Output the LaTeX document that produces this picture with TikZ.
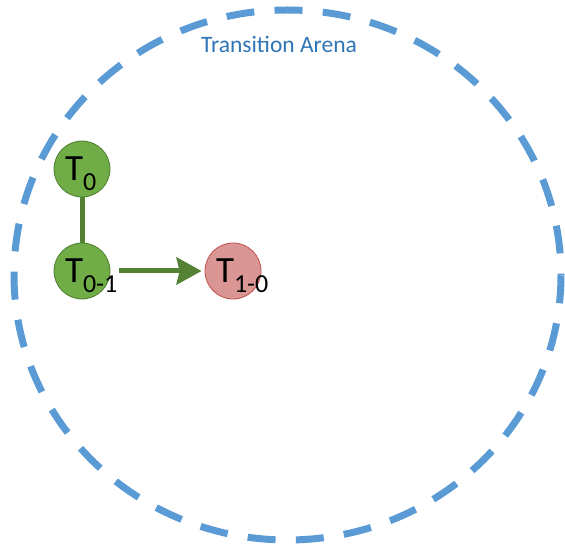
\documentclass[tikz,border=0pt]{standalone}
\usepackage{fontspec}
\setmainfont{Carlito}
\usetikzlibrary{arrows.meta}

\definecolor{arenablue}{RGB}{91,155,213}
\definecolor{arenatext}{RGB}{46,117,182}
\definecolor{tgreen}{RGB}{112,173,71}
\definecolor{tgreenline}{RGB}{80,126,50}
\definecolor{tlink}{RGB}{84,130,53}
\definecolor{tred}{RGB}{218,150,148}
\definecolor{tredline}{RGB}{192,80,77}

\begin{document}
\begin{tikzpicture}[x=1pt,y=1pt,
  tstate/.style={circle,minimum size=56pt,inner sep=0pt,
    text width=34pt,align=left,text height=23pt,text depth=0pt,
    font=\fontsize{37}{37}\selectfont},
  tlive/.style={tstate,fill=tgreen,draw=tgreenline,line width=0.8pt},
  tdead/.style={tstate,fill=tred,draw=tredline,line width=0.8pt},
  tline/.style={draw=tlink,line width=5pt}]
  \useasboundingbox (0,0) rectangle (565,547);

  % Draw the arena
  \draw[arenablue,line width=7pt,dash pattern=on 28pt off 20.3pt,dash phase=26.7pt]
  (287.5,272) ellipse [x radius=273.5pt, y radius=265pt];
  \node[text=arenatext,anchor=base,font=\fontsize{23.5}{26}\selectfont] (arena) at (279,494) {Transition Arena};

  % Transition labels
  \def\tname#1{T\raisebox{-10pt}{\fontsize{26}{26}\selectfont #1}}

  \node[tlive] (t0) at (82,378) {\tname{0}};
  \node[tlive] (t01) at (82,276) {\tname{0-1}};
  \node[tdead] (t10) at (233,276) {\tname{1-0}};

  % Links between transitions
  \draw[tline] (t0) -- (t01);
  \draw[tline,-{Stealth[length=25pt,width=27pt,inset=3pt]},shorten <=9pt,shorten >=3pt]
  (t01) -- (t10);

\end{tikzpicture}
\end{document}
